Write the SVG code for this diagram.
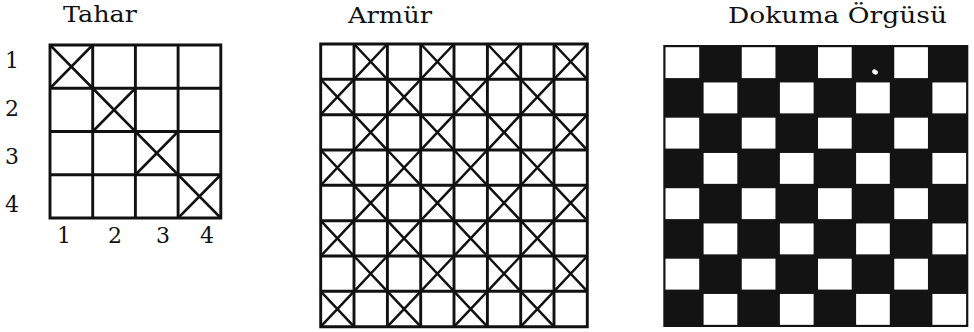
<svg xmlns="http://www.w3.org/2000/svg" xmlns:xlink="http://www.w3.org/1999/xlink" width="974" height="332" viewBox="0 0 974 332">
<style>
.t{font-family:"DejaVu Serif","Liberation Serif",serif;fill:#111;}
.title{font-size:23px;}
.num{font-size:22px;text-anchor:middle;}
.g{fill:none;stroke:#111;stroke-width:2.9;stroke-linecap:square;}
.x{fill:none;stroke:#111;stroke-width:2.5;}
</style>
<defs>
<path id="xt" class="x" d="M0,0 L42.7,43.25 M42.7,0 L0,43.25"/>
<path id="xa" class="x" d="M0,0 L33.33,35.33 M33.33,0 L0,35.33"/>
<rect id="w" width="33.7" height="30.9" fill="#fff"/>
</defs>
<rect width="974" height="332" fill="#fff"/>

<g id="tahar">
<text class="t title" x="63" y="22" textLength="74" lengthAdjust="spacingAndGlyphs">Tahar</text>
<g class="t num">
<text x="12" y="68">1</text>
<text x="12" y="116">2</text>
<text x="12" y="164">3</text>
<text x="12" y="212">4</text>
<text x="64" y="243">1</text>
<text x="115" y="243">2</text>
<text x="163" y="243">3</text>
<text x="207" y="243">4</text>
</g>
<path class="g" d="M50,45 H220.8 V218 H50 Z M92.7,45 V218 M135.4,45 V218 M178.1,45 V218 M50,88.25 H220.8 M50,131.5 H220.8 M50,174.75 H220.8"/>
<use href="#xt" x="50" y="45"/>
<use href="#xt" x="92.7" y="88.25"/>
<use href="#xt" x="135.4" y="131.5"/>
<use href="#xt" x="178.1" y="174.75"/>
</g>

<g id="armur">
<text class="t title" x="348" y="23" textLength="84" lengthAdjust="spacingAndGlyphs">Armür</text>
<path class="g" d="M320.7,44 H587.3 V326.7 H320.7 Z M354,44 V326.7 M387.4,44 V326.7 M420.7,44 V326.7 M454,44 V326.7 M487.4,44 V326.7 M520.7,44 V326.7 M554,44 V326.7 M320.7,79.3 H587.3 M320.7,114.7 H587.3 M320.7,150 H587.3 M320.7,185.3 H587.3 M320.7,220.7 H587.3 M320.7,256 H587.3 M320.7,291.3 H587.3"/>
<use href="#xa" x="354" y="44"/><use href="#xa" x="420.7" y="44"/><use href="#xa" x="487.4" y="44"/><use href="#xa" x="554" y="44"/>
<use href="#xa" x="320.7" y="79.3"/><use href="#xa" x="387.4" y="79.3"/><use href="#xa" x="454" y="79.3"/><use href="#xa" x="520.7" y="79.3"/>
<use href="#xa" x="354" y="114.7"/><use href="#xa" x="420.7" y="114.7"/><use href="#xa" x="487.4" y="114.7"/><use href="#xa" x="554" y="114.7"/>
<use href="#xa" x="320.7" y="150"/><use href="#xa" x="387.4" y="150"/><use href="#xa" x="454" y="150"/><use href="#xa" x="520.7" y="150"/>
<use href="#xa" x="354" y="185.3"/><use href="#xa" x="420.7" y="185.3"/><use href="#xa" x="487.4" y="185.3"/><use href="#xa" x="554" y="185.3"/>
<use href="#xa" x="320.7" y="220.7"/><use href="#xa" x="387.4" y="220.7"/><use href="#xa" x="454" y="220.7"/><use href="#xa" x="520.7" y="220.7"/>
<use href="#xa" x="354" y="256"/><use href="#xa" x="420.7" y="256"/><use href="#xa" x="487.4" y="256"/><use href="#xa" x="554" y="256"/>
<use href="#xa" x="320.7" y="291.3"/><use href="#xa" x="387.4" y="291.3"/><use href="#xa" x="454" y="291.3"/><use href="#xa" x="520.7" y="291.3"/>
</g>

<g id="dokuma">
<text class="t title" x="728" y="23" textLength="219" lengthAdjust="spacingAndGlyphs">Dokuma Örgüsü</text>
<rect x="663.3" y="45" width="305" height="282" fill="#131313"/>
<use href="#w" x="665.5" y="47.2"/><use href="#w" x="741.75" y="47.2"/><use href="#w" x="818" y="47.2"/><use href="#w" x="894.25" y="47.2"/>
<use href="#w" x="703.6" y="82.45"/><use href="#w" x="779.9" y="82.45"/><use href="#w" x="856.1" y="82.45"/><use href="#w" x="932.4" y="82.45"/>
<use href="#w" x="665.5" y="117.7"/><use href="#w" x="741.75" y="117.7"/><use href="#w" x="818" y="117.7"/><use href="#w" x="894.25" y="117.7"/>
<use href="#w" x="703.6" y="152.95"/><use href="#w" x="779.9" y="152.95"/><use href="#w" x="856.1" y="152.95"/><use href="#w" x="932.4" y="152.95"/>
<use href="#w" x="665.5" y="188.2"/><use href="#w" x="741.75" y="188.2"/><use href="#w" x="818" y="188.2"/><use href="#w" x="894.25" y="188.2"/>
<use href="#w" x="703.6" y="223.45"/><use href="#w" x="779.9" y="223.45"/><use href="#w" x="856.1" y="223.45"/><use href="#w" x="932.4" y="223.45"/>
<use href="#w" x="665.5" y="258.7"/><use href="#w" x="741.75" y="258.7"/><use href="#w" x="818" y="258.7"/><use href="#w" x="894.25" y="258.7"/>
<use href="#w" x="703.6" y="293.95"/><use href="#w" x="779.9" y="293.95"/><use href="#w" x="856.1" y="293.95"/><use href="#w" x="932.4" y="293.95"/>
<ellipse cx="875" cy="72" rx="3" ry="2.3" fill="#fff" transform="rotate(30 875 72)"/>
</g>
</svg>
